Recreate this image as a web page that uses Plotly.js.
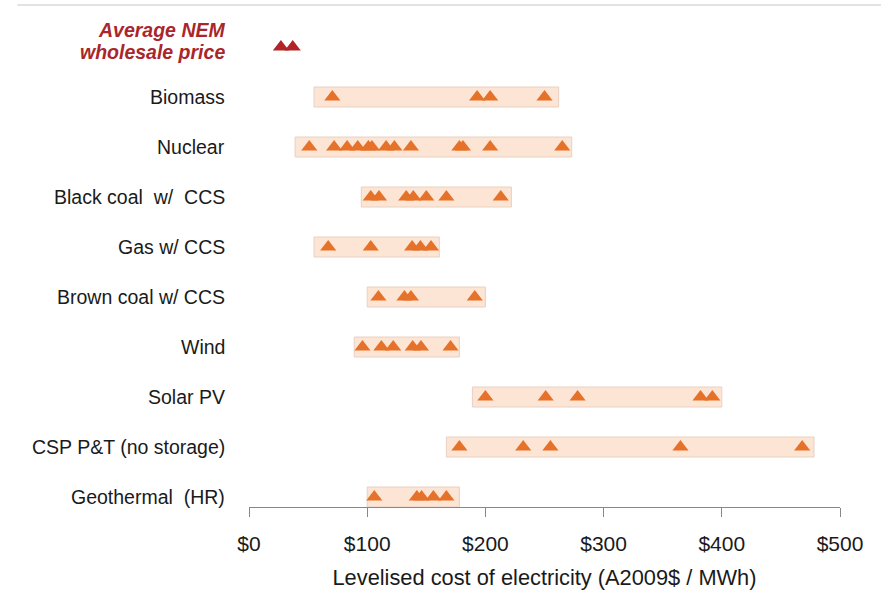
<!DOCTYPE html>
<html><head><meta charset="utf-8">
<script src="https://cdn.plot.ly/plotly-3.0.1.min.js"></script>
<style>html,body{margin:0;padding:0;background:#fff;}#chart{width:881px;height:591px;}</style>
</head><body><div id="chart"></div>
<script>
const categories = ["Average NEM<br>wholesale price","Biomass","Nuclear","Black coal  w/  CCS","Gas w/ CCS","Brown coal w/ CCS","Wind","Solar PV","CSP P&T (no storage)","Geothermal  (HR)"];
const rangeLow  = [null, 55, 39, 95, 55, 100, 89, 189, 167, 100];
const rangeHigh = [null, 262, 273, 222, 161, 200, 178, 400, 478, 178];
const estimates = [
  [27, 37],
  [70.5, 193, 204, 250],
  [51, 72, 83, 92, 101, 104, 116, 123, 137, 178, 181, 204, 265],
  [103, 110, 133, 139, 150, 167, 213],
  [67, 103, 138, 145, 154],
  [109.5, 131.5, 137, 191],
  [96, 112, 122, 138.5, 145.5, 170.5],
  [200, 251, 278, 382, 392],
  [178, 232, 255, 365, 468],
  [106, 142, 146, 156, 167]
];
const tickVals = [0, 100, 200, 300, 400, 500];
const tickText = ["$0", "$100", "$200", "$300", "$400", "$500"];

const FONT = 'Liberation Sans, Arial, sans-serif';
const rows = categories.map((c, i) => i);
const barIdx = rows.filter(i => rangeLow[i] !== null);
const traces = [{
  type: 'bar', orientation: 'h',
  y: barIdx, base: barIdx.map(i => rangeLow[i]),
  x: barIdx.map(i => rangeHigh[i] - rangeLow[i]),
  width: 0.4,
  marker: {color: 'rgb(252,229,212)', line: {color: 'rgb(232,208,195)', width: 1}},
  hoverinfo: 'skip'
}];
rows.forEach(i => {
  traces.push({
    type: 'scatter', mode: 'markers',
    x: estimates[i], y: estimates[i].map(() => i),
    marker: {symbol: 'triangle-up', size: 14, color: i === 0 ? 'rgb(178,36,40)' : 'rgb(230,113,40)', line: {width: 0}},
    hoverinfo: 'x'
  });
});
const annotations = [];
rows.forEach(i => {
  if (i === 0) {
    const parts = categories[0].split('<br>');
    const shifts = [17, -5];
    parts.forEach((p, k) => annotations.push({
      xref: 'paper', yref: 'y', x: 0, y: i, xanchor: 'right', yanchor: 'middle',
      xshift: -22, yshift: shifts[k], text: '<b><i>' + p + '</i></b>', showarrow: false, align: 'right',
      font: {family: FONT, size: 19.5, color: 'rgb(170,38,42)'}
    }));
  } else {
    annotations.push({
      xref: 'paper', yref: 'y', x: 0, y: i, xanchor: 'right', yanchor: 'middle',
      xshift: -22, text: categories[i], showarrow: false, align: 'right',
      font: {family: FONT, size: 19.5, color: '#1a1a1a'}
    });
  }
});
const layout = {
  width: 881, height: 591,
  margin: {l: 249, r: 41, t: 10, b: 84},
  paper_bgcolor: '#fff', plot_bgcolor: '#fff',
  showlegend: false, barmode: 'overlay',
  xaxis: {
    range: [0, 500], tickvals: tickVals, ticktext: tickText,
    showgrid: false, zeroline: false, showline: true, linecolor: '#888', linewidth: 1,
    ticks: 'outside', ticklen: 9, tickcolor: '#888', ticklabelstandoff: 9,
    tickfont: {family: FONT, size: 21, color: '#1a1a1a'},
    title: {text: 'Levelised cost of electricity (A2009$ / MWh)', standoff: 15,
      font: {family: FONT, size: 21.8, color: '#1a1a1a'}}
  },
  yaxis: {range: [9.2, -0.74], showticklabels: false, showgrid: false, zeroline: false, showline: false, ticks: ''},
  annotations: annotations,
  shapes: [{type: 'line', xref: 'paper', yref: 'paper', x0: -0.392, x1: 1.07, y0: 1.01, y1: 1.01,
    line: {color: '#d9d9d9', width: 1.5}}]
};
Plotly.newPlot('chart', traces, layout, {displayModeBar: false, staticPlot: true});
</script></body></html>
